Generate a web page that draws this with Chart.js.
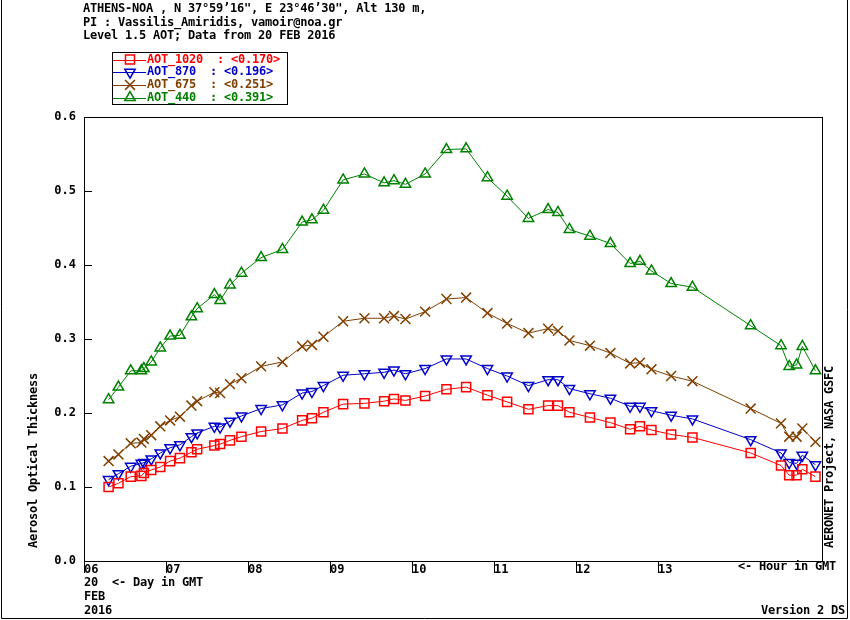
<!DOCTYPE html>
<html>
<head>
<meta charset="utf-8">
<script src="https://cdn.jsdelivr.net/npm/chart.js"></script>
<style>
body { margin: 0; background: #fff; }
canvas { display: block; }
</style>
</head>
<body>
<canvas id="aot" width="850" height="620"></canvas>
<script>
// hour of day (GMT) of each measurement, 20 FEB 2016
const hours = [6.30,6.42,6.57,6.70,6.73,6.82,6.93,7.05,7.17,7.31,7.38,7.59,7.66,7.78,7.92,8.16,8.42,8.66,8.78,8.92,
9.16,9.42,9.66,9.78,9.92,10.16,10.42,10.66,10.92,11.16,11.42,11.66,11.78,11.92,12.17,12.42,12.66,12.78,12.92,13.16,
13.42,14.13,14.50,14.60,14.69,14.76,14.92];

const aot1020 = [0.100,0.105,0.114,0.115,0.119,0.123,0.127,0.135,0.139,0.147,0.151,0.156,0.158,0.163,0.168,0.175,0.179,0.190,0.193,0.201,
0.212,0.213,0.216,0.219,0.217,0.223,0.232,0.235,0.224,0.215,0.205,0.210,0.210,0.201,0.194,0.187,0.178,0.182,0.177,0.171,
0.167,0.146,0.129,0.116,0.116,0.124,0.114];

const aot870 = [0.110,0.118,0.128,0.132,0.133,0.138,0.146,0.153,0.157,0.168,0.173,0.182,0.181,0.189,0.196,0.206,0.211,0.227,0.229,0.237,
0.251,0.253,0.255,0.258,0.253,0.260,0.273,0.273,0.260,0.250,0.237,0.245,0.245,0.233,0.226,0.220,0.209,0.209,0.203,0.197,
0.192,0.164,0.146,0.133,0.132,0.143,0.130];

const aot675 = [0.135,0.144,0.159,0.160,0.165,0.170,0.182,0.190,0.195,0.210,0.216,0.228,0.227,0.239,0.247,0.263,0.269,0.290,0.292,0.303,
0.324,0.328,0.328,0.331,0.327,0.337,0.354,0.356,0.335,0.321,0.308,0.314,0.311,0.298,0.291,0.281,0.267,0.268,0.259,0.250,
0.243,0.206,0.186,0.168,0.168,0.179,0.161];

const aot440 = [0.218,0.235,0.257,0.257,0.260,0.269,0.288,0.304,0.305,0.330,0.341,0.360,0.352,0.373,0.389,0.410,0.421,0.458,0.461,0.474,
0.515,0.523,0.511,0.514,0.509,0.523,0.556,0.557,0.518,0.493,0.463,0.475,0.471,0.448,0.439,0.429,0.402,0.405,0.392,0.375,
0.370,0.318,0.291,0.263,0.265,0.290,0.257];

const seriesNames = ["AOT_1020", "AOT_870", "AOT_675", "AOT_440"];
const seriesMeans = ["0.170", "0.196", "0.251", "0.391"];

const headerLines = [
  "ATHENS-NOA , N 37°59’16\", E 23°46’30\", Alt 130 m,",
  "PI : Vassilis_Amiridis, vamoir@noa.gr",
  "Level 1.5 AOT; Data from 20 FEB 2016"
];

const FONT = 'bold 12px "DejaVu Sans Mono", "Liberation Mono", monospace';

function pts(vals) {
  return vals.map((v, i) => ({x: hours[i], y: v}));
}

function series(i, vals, color, style, radius, rotation) {
  return {
    label: seriesNames[i],
    data: pts(vals),
    borderColor: color,
    backgroundColor: color,
    borderWidth: 1,
    tension: 0,
    pointStyle: style,
    pointRadius: radius,
    pointRotation: rotation,
    pointBorderColor: color,
    pointBackgroundColor: "rgba(0,0,0,0)",
    pointBorderWidth: 1.5
  };
}

function line(ctx, x1, y1, x2, y2) {
  ctx.beginPath();
  ctx.moveTo(x1, y1);
  ctx.lineTo(x2, y2);
  ctx.stroke();
}

const decor = {
  id: "decor",
  afterDraw(chart) {
    const ctx = chart.ctx;
    const a = chart.chartArea;
    const xs = chart.scales.x, ys = chart.scales.y;
    ctx.save();
    ctx.strokeStyle = "#000";
    ctx.fillStyle = "#000";
    ctx.lineWidth = 1;

    // plot frame
    ctx.strokeRect(a.left + 0.5, a.top + 0.5, a.right - a.left, a.bottom - a.top);

    // y ticks point inwards
    ys.ticks.forEach(t => {
      const y = Math.round(ys.getPixelForValue(t.value)) + 0.5;
      line(ctx, a.left, y, a.left + 8, y);
    });
    // hour ticks hang below the axis
    xs.ticks.forEach(t => {
      if (t.value > 13) return;
      const x = Math.round(xs.getPixelForValue(t.value)) + 0.5;
      line(ctx, x, a.bottom, x, a.bottom + 12);
    });

    ctx.font = FONT;
    if ("letterSpacing" in ctx) ctx.letterSpacing = "-0.22px";
    ctx.textBaseline = "middle";
    ctx.textAlign = "left";

    headerLines.forEach((s, i) => ctx.fillText(s, 83, 9 + i * 13.5));

    // legend
    ctx.strokeRect(112.5, 52.5, 175, 52);
    chart.data.datasets.forEach((ds, i) => {
      const y = 59.5 + i * 12.7;
      ctx.strokeStyle = ds.borderColor;
      line(ctx, 113, Math.round(y) + 0.5, 146, Math.round(y) + 0.5);
      if (Chart.helpers && Chart.helpers.drawPoint) {
        ctx.lineWidth = 1.5;
        ctx.fillStyle = "rgba(0,0,0,0)";
        Chart.helpers.drawPoint(ctx, {pointStyle: ds.pointStyle, rotation: ds.pointRotation, radius: ds.pointRadius, borderWidth: 1.5}, 130, y);
        ctx.lineWidth = 1;
      }
      ctx.fillStyle = ds.borderColor;
      ctx.fillText(ds.label + "  : <" + seriesMeans[i] + ">", 147, y);
    });

    ctx.fillStyle = "#000";
    ctx.strokeStyle = "#000";
    ctx.fillText("20  <- Day in GMT", 84, 583);
    ctx.fillText("FEB", 84, 597);
    ctx.fillText("2016", 84, 611);
    ctx.fillText("<- Hour in GMT", 738, 567);
    ctx.textAlign = "right";
    ctx.fillText("Version 2 DS", 845, 611);

    ctx.textAlign = "left";
    ctx.save();
    ctx.translate(34, 548);
    ctx.rotate(-Math.PI / 2);
    ctx.fillText("Aerosol Optical Thickness", 0, 0);
    ctx.restore();
    ctx.save();
    ctx.translate(830, 548);
    ctx.rotate(-Math.PI / 2);
    ctx.fillText("AERONET Project, NASA GSFC", 0, 0);
    ctx.restore();

    // outer border (no top edge)
    line(ctx, 1.5, 0, 1.5, 618.5);
    line(ctx, 1.5, 618.5, 847.5, 618.5);
    line(ctx, 847.5, 0, 847.5, 618.5);
    ctx.restore();
  }
};

new Chart(document.getElementById("aot"), {
  type: "line",
  data: {
    datasets: [
      series(0, aot1020, "#ff0000", "rect", 6.4, 0),
      series(1, aot870, "#0000c8", "triangle", 6, 180),
      series(2, aot675, "#804000", "crossRot", 7, 0),
      series(3, aot440, "#008000", "triangle", 6, 0)
    ]
  },
  options: {
    responsive: false,
    animation: false,
    devicePixelRatio: 1,
    layout: {padding: {left: 0, top: 117, right: 28, bottom: 0}},
    plugins: {
      legend: {display: false},
      title: {display: false},
      tooltip: {enabled: false}
    },
    scales: {
      x: {
        type: "linear",
        min: 6,
        max: 15,
        afterFit: s => { s.height = 59; },
        grid: {display: false, drawTicks: false},
        border: {display: false},
        ticks: {
          stepSize: 1,
          autoSkip: false,
          maxRotation: 0,
          align: "start",
          padding: 2,
          color: "#000",
          font: {family: '"DejaVu Sans Mono", monospace', size: 12, weight: "bold"},
          callback: v => v <= 13 ? String(v).padStart(2, "0") : ""
        }
      },
      y: {
        min: 0,
        max: 0.6,
        afterFit: s => { s.width = 84; },
        grid: {display: false, drawTicks: false},
        border: {display: false},
        ticks: {
          stepSize: 0.1,
          padding: 8,
          color: "#000",
          font: {family: '"DejaVu Sans Mono", monospace', size: 12, weight: "bold"},
          callback: v => v.toFixed(1)
        }
      }
    }
  },
  plugins: [decor]
});
</script>
</body>
</html>
